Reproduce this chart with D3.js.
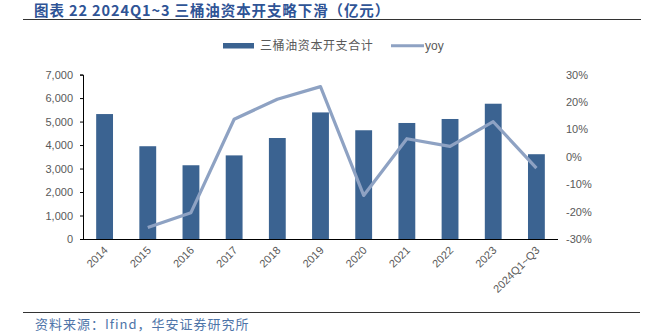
<!DOCTYPE html>
<html><head><meta charset="utf-8">
<script src="https://cdn.jsdelivr.net/npm/d3@7/dist/d3.min.js"></script>
<style>
body{margin:0;background:#fff;}
svg{display:block;}
</style></head>
<body>
<svg id="c" width="658" height="332"></svg>
<script>
const categories = ["2014","2015","2016","2017","2018","2019","2020","2021","2022","2023","2024Q1~Q3"];
const capex = [5320, 3950, 3140, 3560, 4300, 5390, 4630, 4940, 5110, 5760, 3610];
const yoy = [null, -25.8, -20.4, 13.7, 21.0, 25.6, -14.1, 6.6, 3.8, 12.8, -4.1];
const leftTicks = [0,1000,2000,3000,4000,5000,6000,7000];
const rightTicks = [-30,-20,-10,0,10,20,30];
const titleText = "图表 22 2024Q1~3 三桶油资本开支略下滑（亿元）";
const sourceText = "资料来源：Ifind，华安证券研究所";
const seriesNames = ["三桶油资本开支合计","yoy"];

const svg = d3.select("#c");
const barColor = "#3b6391", lineColor = "#8ea2c3", axisText = "#595959";
const cjk = "'Noto Sans CJK SC','Noto Sans',sans-serif";

const x = d3.scaleBand().domain(categories).range([83, 558]).paddingInner(0.61).paddingOuter(0.305);
const yL = d3.scaleLinear().domain([0,7000]).range([239, 74.6]);
const yR = d3.scaleLinear().domain([-30,30]).range([239, 74.6]);

// title
svg.append("text").attr("x",34).attr("y",16).attr("font-family",cjk).attr("font-weight","bold")
  .attr("font-size",14.5).attr("letter-spacing",0.9).attr("fill","#2f5496").text(titleText);
svg.append("line").attr("x1",23).attr("x2",641).attr("y1",19.5).attr("y2",19.5).attr("stroke","#333").attr("stroke-width",1);

// bars
svg.append("g").selectAll("rect").data(categories).join("rect")
  .attr("x",d=>x(d)).attr("width",x.bandwidth())
  .attr("y",(d,i)=>yL(capex[i])).attr("height",(d,i)=>yL(0)-yL(capex[i]))
  .attr("fill",barColor);

// left axis
const gL = svg.append("g").attr("transform","translate(83,0)")
  .call(d3.axisLeft(yL).tickValues(leftTicks).tickFormat(d3.format(",")).tickSizeOuter(0).tickSize(3));
gL.select(".domain").attr("stroke","#000");
gL.selectAll(".tick line").attr("stroke","#000");
gL.selectAll("text").attr("font-family","'Liberation Sans',Arial,sans-serif").attr("font-size",11).attr("fill",axisText).attr("x",-10);

// right axis
const gR = svg.append("g").attr("transform","translate(566,0)")
  .call(d3.axisRight(yR).tickValues(rightTicks).tickFormat(d=>d+"%").tickSize(0));
gR.select(".domain").remove();
gR.selectAll("text").attr("font-family","'Liberation Sans',Arial,sans-serif").attr("font-size",11).attr("fill",axisText).attr("x",0);

// bottom axis
const gB = svg.append("g").attr("transform","translate(0,239)")
  .call(d3.axisBottom(x).tickSize(0).tickSizeOuter(0));
gB.select(".domain").attr("stroke","#000").attr("d","M83,0.5H558");
gB.selectAll("text").attr("font-family","'Liberation Sans',Arial,sans-serif").attr("font-size",11).attr("fill",axisText)
  .attr("text-anchor","end").attr("dy",0).attr("y",0)
  .attr("transform","translate(4,12) rotate(-45)");

// line
const lineData = categories.map((c,i)=>({c,v:yoy[i]})).filter(d=>d.v!==null);
svg.append("path").datum(lineData)
  .attr("d", d3.line().x(d=>x(d.c)+x.bandwidth()/2).y(d=>yR(d.v)))
  .attr("fill","none").attr("stroke",lineColor).attr("stroke-width",3.2).attr("stroke-linejoin","round");

// legend
const lg = svg.append("g");
lg.append("rect").attr("x",223).attr("y",43).attr("width",31).attr("height",5.5).attr("fill",barColor);
lg.append("text").attr("x",260).attr("y",50).attr("font-family",cjk).attr("font-size",12).attr("fill",axisText).attr("letter-spacing",0.6).text(seriesNames[0]);
lg.append("line").attr("x1",391).attr("x2",424).attr("y1",45.7).attr("y2",45.7).attr("stroke",lineColor).attr("stroke-width",3);
lg.append("text").attr("x",425).attr("y",50).attr("font-family","'Liberation Sans',Arial,sans-serif").attr("font-size",12).attr("fill",axisText).text(seriesNames[1]);

// source
svg.append("line").attr("x1",23).attr("x2",640).attr("y1",312.5).attr("y2",312.5).attr("stroke","#333").attr("stroke-width",1);
svg.append("text").attr("x",35).attr("y",329).attr("font-family",cjk).attr("font-size",13).attr("letter-spacing",1).attr("fill","#4e74a8").text(sourceText);
</script>
</body></html>
